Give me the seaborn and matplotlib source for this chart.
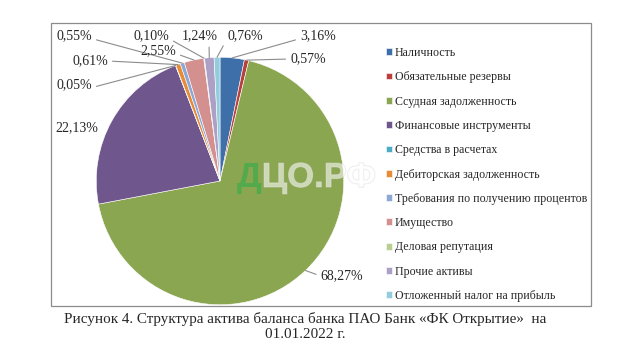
import matplotlib
matplotlib.use('Agg')
import numpy as np
import matplotlib.pyplot as plt
import matplotlib.patches as mpatches
import matplotlib.patheffects as pe
import seaborn as sns

categories = ['Наличность', 'Обязательные резервы', 'Ссудная задолженность',
              'Финансовые инструменты', 'Средства в расчетах',
              'Дебиторская задолженность', 'Требования по получению процентов',
              'Имущество', 'Деловая репутация', 'Прочие активы',
              'Отложенный налог на прибыль']
shares = [3.16, 0.57, 68.27, 22.13, 0.05, 0.61, 0.55, 2.55, 0.10, 1.24, 0.76]
labels = ['3,16%', '0,57%', '68,27%', '22,13%', '0,05%', '0,61%', '0,55%',
          '2,55%', '0,10%', '1,24%', '0,76%']
colors = ['#3f6fa8', '#b8413e', '#8aa650', '#6f568c', '#4aacc6', '#e88a36',
          '#8ca8d6', '#d48f8f', '#b9cf8f', '#ada0c6', '#93cddd']

# label text centres in picture pixels (x, y from top) and where the leader joins the text
label_pos = [(318, 36), (308, 59), (342, 276), (77, 128), (74, 85), (90, 61),
             (74, 36), (158, 51), (151, 36), (200, 36), (245, 36)]
label_rel = [(0, 0.3), (0, 0.5), (0, 0.5), None, (1, 0.3), (1, 0.5),
             (1, 0.3), (1, 0.3), (1, 0.3), (0.75, 0.0), (0, 0.3)]

W, H = 620, 356
sns.set_style('white')
plt.rcParams['font.family'] = ['Liberation Serif', 'DejaVu Serif']

fig = plt.figure(figsize=(W / 100, H / 100), dpi=100)


def fpos(px, py):
    return px / W, 1 - py / H


# outer frame of the chart
fig.patches.append(mpatches.Rectangle(fpos(51, 306), 540 / W, 283 / H,
                                      transform=fig.transFigure, fill=False,
                                      edgecolor='#8c8c8c', linewidth=0.9))

cx, cy, rad = 220, 181, 125
ax = fig.add_axes([(cx - rad) / W, (H - cy - rad) / H, 2 * rad / W, 2 * rad / H])

pal = sns.color_palette(colors)
wedges, _ = ax.pie(shares, colors=pal, startangle=90, counterclock=False,
                   radius=0.99, wedgeprops=dict(edgecolor='white', linewidth=0.4))
ax.set_xlim(-1, 1)
ax.set_ylim(-1, 1)
ax.set_aspect('equal')
ax.axis('off')

for w, lab, pos, rel in zip(wedges, labels, label_pos, label_rel):
    ang = np.deg2rad((w.theta1 + w.theta2) / 2)
    edge = (0.99 * np.cos(ang), 0.99 * np.sin(ang))
    if rel is None:
        fig.text(*fpos(*pos), lab, ha='center', va='center', fontsize=10)
        continue
    ax.annotate(lab, xy=edge, xycoords='data', xytext=fpos(*pos),
                textcoords='figure fraction', ha='center', va='center', fontsize=10,
                arrowprops=dict(arrowstyle='-', color='#8c8c8c', lw=0.8,
                                relpos=rel, shrinkA=1, shrinkB=0))

# watermark
wx, wy = fpos(237, 187)
d = fig.text(wx, wy, 'Д', fontsize=25, fontweight='bold', family='Liberation Sans',
             color='#52aa4c', ha='left', va='baseline')
fig.canvas.draw()
dw = d.get_window_extent().width / W
fig.text(wx + dw, wy, 'ЦО.РФ', fontsize=25, fontweight='bold', family='Liberation Sans',
         color=(1, 1, 1, 0.35), ha='left', va='baseline',
         path_effects=[pe.withStroke(linewidth=0.8, foreground=(0.85, 0.85, 0.85, 0.5))])

fig.legend(wedges, categories, loc='upper left', bbox_to_anchor=fpos(386, 47),
           frameon=False, fontsize=8.6, borderpad=0, borderaxespad=0,
           handlelength=0.5, handleheight=0.5, handletextpad=0.25,
           labelspacing=1.03)

fig.text(*fpos(305, 326),
         'Рисунок 4. Структура актива баланса банка ПАО Банк «ФК Открытие»  на\n01.01.2022 г.',
         ha='center', va='center', fontsize=10.9, linespacing=1.2, multialignment='center')

fig.savefig('out.png', dpi=100)
